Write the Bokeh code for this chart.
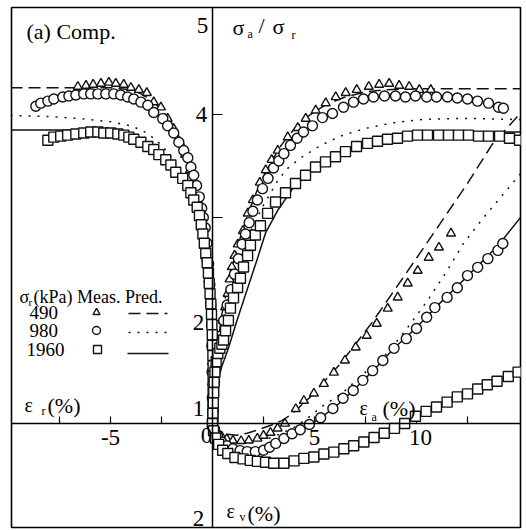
from bokeh.plotting import figure
from bokeh.models import Range1d, Span, Label
from bokeh.embed import file_html
from bokeh.resources import INLINE

# ---------------- stress ratio sigma_a/sigma_r against radial strain (%) ----------------
er_tri = [-6.6, -6.2, -5.85, -5.47, -5.08, -4.74, -4.35, -4.0, -3.61, -3.22, -2.88, -2.53,
          -2.2, -1.9, -1.6, -1.35, -1.1, -0.9, -0.7, -0.55, -0.42, -0.3, -0.2, -0.13, -0.08,
          -0.05, -0.03, -0.02, -0.01, 0.0]
sr_tri_l = [4.27, 4.28, 4.29, 4.30, 4.31, 4.30, 4.29, 4.26, 4.24, 4.21, 4.12, 4.07,
            3.96, 3.86, 3.73, 3.61, 3.46, 3.31, 3.16, 3.0, 2.8, 2.6, 2.4, 2.2, 2.0,
            1.8, 1.6, 1.4, 1.2, 1.0]

er_cir = [-8.66, -8.42, -8.07, -7.78, -7.34, -7.04, -6.7, -6.31, -5.97, -5.62, -5.23, -4.84,
          -4.5, -4.16, -3.86, -3.51, -3.17, -2.88, -2.44, -2.2, -1.9, -1.65, -1.41, -1.21,
          -1.06, -0.92, -0.78, -0.65, -0.53, -0.45, -0.36, -0.27, -0.19, -0.13, -0.08, -0.05,
          -0.03, -0.02, -0.01, 0.0]
sr_cir_l = [4.08, 4.11, 4.13, 4.15, 4.17, 4.18, 4.19, 4.20, 4.20, 4.20, 4.20, 4.20,
            4.19, 4.17, 4.15, 4.12, 4.09, 4.02, 3.96, 3.89, 3.82, 3.73, 3.65, 3.58,
            3.49, 3.41, 3.31, 3.20, 3.09, 3.0, 2.9, 2.75, 2.55, 2.35, 2.15, 1.95,
            1.75, 1.5, 1.25, 1.0]

er_sq = [-8.07, -7.78, -7.44, -7.1, -6.7, -6.31, -5.97, -5.62, -5.33, -4.99, -4.64, -4.35,
         -4.1, -3.86, -3.51, -3.17, -2.88, -2.63, -2.29, -2.04, -1.8, -1.46, -1.21, -1.06,
         -0.92, -0.75, -0.64, -0.55, -0.47, -0.40, -0.33, -0.26, -0.2, -0.16, -0.12, -0.08,
         -0.05, -0.03, -0.01, 0.0, 0.02, 0.03, 0.03, 0.03, 0.03, 0.03, 0.02]
sr_sq_l = [3.75, 3.78, 3.79, 3.80, 3.81, 3.82, 3.83, 3.83, 3.82, 3.82, 3.81, 3.80,
           3.78, 3.76, 3.73, 3.69, 3.66, 3.61, 3.56, 3.51, 3.44, 3.38, 3.31, 3.24,
           3.17, 3.10, 3.02, 2.93, 2.84, 2.75, 2.65, 2.56, 2.46, 2.36, 2.26, 2.16,
           2.06, 1.96, 1.86, 1.76, 1.66, 1.56, 1.46, 1.36, 1.26, 1.16, 1.06]

# ---------------- stress ratio against axial strain (%) ----------------
ea_tri = [0.0, 0.02, 0.05, 0.1, 0.17, 0.26, 0.37, 0.5, 0.62, 0.74, 0.84, 0.95, 1.08, 1.24,
          1.49, 1.73, 1.98, 2.32, 2.61, 2.9, 3.2, 3.69, 4.18, 4.57, 5.06, 5.55, 6.04, 6.53,
          7.07, 7.66, 8.17, 8.66, 9.15, 9.64, 10.14, 10.7]
sr_tri_r = [1.0, 1.12, 1.25, 1.4, 1.55, 1.7, 1.85, 2.0, 2.13, 2.26, 2.4, 2.52, 2.63, 2.74,
            2.87, 3.04, 3.17, 3.34, 3.46, 3.56, 3.65, 3.78, 3.87, 3.96, 4.04, 4.11, 4.17, 4.21,
            4.24, 4.27, 4.29, 4.30, 4.28, 4.27, 4.24, 4.24]

ea_cir = [0.0, 0.02, 0.05, 0.1, 0.18, 0.28, 0.4, 0.55, 0.72, 0.9, 1.08, 1.27, 1.45, 1.62,
          1.8, 1.98, 2.2, 2.45, 2.72, 2.99, 3.25, 3.5, 3.82, 4.15, 4.46, 4.9, 5.39, 5.88,
          6.42, 6.91, 7.4, 7.89, 8.43, 8.97, 9.46, 9.95, 10.5, 10.98, 11.52, 12.0, 12.5,
          12.99, 13.53, 14.02, 14.26]
sr_cir_r = [1.0, 1.12, 1.25, 1.4, 1.55, 1.7, 1.85, 2.0, 2.15, 2.3, 2.45, 2.6, 2.74, 2.84,
            2.95, 3.06, 3.17, 3.28, 3.38, 3.48, 3.55, 3.62, 3.70, 3.77, 3.83, 3.89, 3.97, 4.01,
            4.07, 4.12, 4.15, 4.17, 4.18, 4.18, 4.17, 4.18, 4.17, 4.17, 4.17, 4.16, 4.15,
            4.13, 4.11, 4.07, 4.06]

ea_sq = [0.0, 0.02, 0.04, 0.06, 0.08, 0.12, 0.18, 0.26, 0.36, 0.46, 0.54, 0.64, 0.78, 0.88,
         1.03, 1.23, 1.37, 1.52, 1.72, 1.86, 2.1, 2.35, 2.7, 3.09, 3.58, 4.07, 4.56, 5.05,
         5.54, 6.03, 6.52, 7.06, 7.6, 8.09, 8.58, 9.07, 9.56, 10.05, 10.54, 11.08, 11.57,
         12.06, 12.55, 13.04, 13.53, 14.07, 14.56, 15.05]
sr_sq_r = [1.0, 1.1, 1.2, 1.3, 1.4, 1.5, 1.6, 1.68, 1.73, 1.77, 1.81, 1.9, 2.0, 2.12,
           2.22, 2.32, 2.41, 2.52, 2.63, 2.73, 2.83, 2.92, 3.04, 3.15, 3.24, 3.33, 3.41, 3.49,
           3.54, 3.59, 3.64, 3.69, 3.72, 3.74, 3.76, 3.77, 3.79, 3.80, 3.80, 3.80, 3.80,
           3.80, 3.80, 3.79, 3.79, 3.79, 3.77, 3.75]

# ---------------- predicted stress ratio (left: radial, right: axial) ----------------
pr_490_l_x = [-9.9, -7.0, -5.0, -4.0, -3.5, -3.0, -2.5, -2.0, -1.6, -1.2, -0.9, -0.6, -0.4,
              -0.25, -0.15, -0.08, -0.04, -0.01, 0.0]
pr_490_l_y = [4.26, 4.26, 4.26, 4.24, 4.20, 4.14, 4.05, 3.92, 3.77, 3.58, 3.38, 3.12, 2.85,
              2.55, 2.25, 1.9, 1.55, 1.2, 1.0]
pr_980_l_x = [-9.9, -8.0, -6.5, -5.0, -4.0, -3.4, -2.8, -2.4, -2.0, -1.6, -1.2, -0.9, -0.6,
              -0.4, -0.25, -0.14, -0.07, -0.03, 0.0]
pr_980_l_y = [3.99, 3.98, 3.96, 3.93, 3.89, 3.84, 3.76, 3.68, 3.58, 3.45, 3.28, 3.1, 2.85,
              2.6, 2.3, 2.0, 1.65, 1.3, 1.0]
pr_1960_l_x = [-9.9, -8.0, -6.0, -5.0, -4.0, -3.0, -2.5, -2.0, -1.5, -1.1, -0.8, -0.55,
               -0.35, -0.2, -0.1, -0.05, -0.02, 0.0]
pr_1960_l_y = [3.85, 3.85, 3.85, 3.84, 3.80, 3.70, 3.62, 3.52, 3.38, 3.22, 3.05, 2.85,
               2.6, 2.3, 1.95, 1.6, 1.3, 1.0]

pr_490_r_x = [0.0, 0.05, 0.12, 0.25, 0.45, 0.7, 1.0, 1.4, 1.8, 2.3, 2.8, 3.4, 4.0, 4.8,
              5.6, 6.5, 7.5, 8.5, 10.0, 15.1]
pr_490_r_y = [1.0, 1.2, 1.45, 1.75, 2.05, 2.3, 2.55, 2.83, 3.07, 3.32, 3.52, 3.71, 3.86,
              4.0, 4.1, 4.17, 4.22, 4.24, 4.25, 4.25]
pr_980_r_x = [0.0, 0.08, 0.2, 0.4, 0.65, 1.0, 1.4, 1.9, 2.5, 3.2, 3.7, 4.33, 5.3, 6.4,
              7.6, 8.9, 10.2, 11.7, 13.2, 15.1]
pr_980_r_y = [1.0, 1.25, 1.55, 1.85, 2.1, 2.38, 2.62, 2.88, 3.12, 3.36, 3.48, 3.58, 3.70,
              3.80, 3.87, 3.92, 3.95, 3.96, 3.96, 3.95]
pr_1960_r_x = [0.0, 0.08, 0.22, 0.45, 0.78, 1.2, 1.7, 2.2, 2.6, 3.2, 4.0, 5.0, 6.0, 7.0,
               8.0, 9.0, 10.0, 12.0, 15.1]
pr_1960_r_y = [1.0, 1.2, 1.38, 1.55, 1.73, 2.0, 2.3, 2.6, 2.85, 3.07, 3.3, 3.48, 3.6,
               3.69, 3.75, 3.79, 3.81, 3.83, 3.83]

# ---------------- volumetric strain (%) against axial strain (%) ----------------
ev_tri_x = [0.0, 0.1, 0.25, 0.45, 0.7, 1.0, 1.4, 1.78, 2.2, 2.5, 2.84, 3.19, 3.55, 4.08,
            4.48, 4.97, 5.46, 5.95, 6.49, 7.02, 7.56, 8.05, 8.59, 9.08, 9.57, 10.06, 10.6,
            11.1, 11.69]
ev_tri_y = [0.0, 0.1, 0.2, 0.27, 0.32, 0.35, 0.36, 0.35, 0.31, 0.25, 0.19, 0.10, 0.0,
            -0.3, -0.47, -0.62, -0.82, -1.05, -1.30, -1.57, -1.81, -2.06, -2.37, -2.60,
            -2.89, -3.15, -3.42, -3.63, -3.92]

ev_cir_x = [0.0, 0.1, 0.25, 0.45, 0.7, 1.0, 1.35, 1.7, 2.1, 2.5, 2.8, 3.1, 3.5, 3.9, 4.3,
            4.75, 5.3, 5.9, 6.4, 6.9, 7.37, 7.85, 8.35, 8.9, 9.5, 10.0, 10.5, 10.9, 11.5,
            12.0, 12.5, 13.0, 13.5, 13.99, 14.23]
ev_cir_y = [0.0, 0.12, 0.26, 0.38, 0.46, 0.52, 0.56, 0.58, 0.58, 0.55, 0.49, 0.41, 0.31,
            0.21, 0.13, 0.02, -0.12, -0.31, -0.52, -0.68, -0.89, -1.09, -1.30, -1.55, -1.75,
            -1.96, -2.19, -2.39, -2.60, -2.80, -3.05, -3.22, -3.40, -3.57, -3.71]

ev_sq_x = [0.0, 0.05, 0.15, 0.3, 0.5, 0.75, 1.1, 1.5, 1.85, 2.2, 2.6, 3.0, 3.5, 4.0, 4.48,
           4.97, 5.46, 5.95, 6.44, 6.92, 7.42, 7.92, 8.42, 8.92, 9.42, 9.95, 10.47, 10.98,
           11.5, 12.0, 12.5, 13.0, 13.47, 13.95, 14.5, 14.98]
ev_sq_y = [0.0, 0.15, 0.3, 0.43, 0.55, 0.62, 0.70, 0.73, 0.76, 0.78, 0.80, 0.82, 0.82,
           0.77, 0.72, 0.69, 0.63, 0.59, 0.52, 0.46, 0.38, 0.29, 0.20, 0.10, 0.0, -0.15,
           -0.25, -0.34, -0.44, -0.55, -0.61, -0.71, -0.80, -0.87, -0.97, -1.06]

pv_490_x = [0.0, 0.3, 0.7, 1.2, 1.7, 2.3, 2.9, 3.4, 3.9, 4.8, 6.3, 7.8, 9.3, 10.8, 12.5,
            13.7, 15.1]
pv_490_y = [0.0, 0.14, 0.22, 0.24, 0.2, 0.12, 0.03, -0.06, -0.2, -0.55, -1.25, -2.07,
            -2.98, -3.9, -4.95, -5.75, -6.4]
pv_980_x = [0.0, 0.3, 0.8, 1.4, 2.0, 2.7, 3.4, 4.0, 4.5, 4.97, 5.3, 6.39, 7.42, 8.59,
            9.57, 10.55, 11.5, 12.3, 13.2, 14.1, 15.1]
pv_980_y = [0.0, 0.18, 0.3, 0.36, 0.37, 0.32, 0.2, 0.08, -0.06, -0.21, -0.33, -0.64,
            -1.03, -1.46, -1.98, -2.54, -3.15, -3.71, -4.2, -4.65, -5.15]
pv_1960_x = [0.0, 0.3, 0.7, 1.2, 1.8, 2.4, 3.0, 3.6, 4.2, 4.9, 5.9, 6.9, 7.9, 8.9, 10.0,
             11.0, 12.0, 13.0, 14.0, 15.1]
pv_1960_y = [0.0, 0.25, 0.42, 0.52, 0.57, 0.55, 0.45, 0.3, 0.15, 0.0, -0.3, -0.68, -1.1,
             -1.55, -1.98, -2.42, -2.83, -3.25, -3.67, -4.25]

x_minor_ticks = [-7.5, -5.0, -2.5, 2.5, 5.0, 7.5, 10.0, 12.5]
y_ticks = [2, 3, 4]
legend_rows = ["490", "980", "1960"]

FONT = "Liberation Serif"
INK = "#111111"

# pixel geometry of the drawing area (used only to place text and tick lengths)
X0, XS = 212.0, 20.4      # x = 0 at pixel 212, 20.4 px per percent
Y0, YS = 423.0, 103.0     # ratio = 1 at pixel 423, 103 px per unit
EVS = 48.5                # px per percent of volumetric strain


def sx(px):
    return (px - X0) / XS


def sy(py):
    return 1.0 + (Y0 - py) / YS


p = figure(width=526, height=530,
           x_range=Range1d(sx(11), sx(520)), y_range=Range1d(sy(527), sy(7)),
           output_backend="svg", toolbar_location=None,
           x_axis_location=None, y_axis_location=None,
           min_border_left=11, min_border_right=6, min_border_top=7, min_border_bottom=3)
p.extra_y_ranges = {"ev": Range1d(start=(527 - Y0) / EVS, end=(7 - Y0) / EVS)}
p.grid.visible = False
p.outline_line_color = "black"
p.outline_line_width = 1.6
p.background_fill_color = "white"
p.border_fill_color = "white"

# crossing axes
p.add_layout(Span(location=0, dimension="height", line_color="black", line_width=1.5))
p.add_layout(Span(location=1, dimension="width", line_color="black", line_width=1.5))

# tick marks
p.segment(x0=x_minor_ticks, y0=[1] * len(x_minor_ticks), x1=x_minor_ticks,
          y1=[1 + 7 / YS] * len(x_minor_ticks), line_color="black", line_width=1.2)
p.segment(x0=[0] * len(y_ticks), y0=y_ticks, x1=[10 / XS] * len(y_ticks), y1=y_ticks,
          line_color="black", line_width=1.2)


def label(text, px, py, size, align="left"):
    p.add_layout(Label(x=sx(px), y=sy(py), text=text, text_font=FONT,
                       text_font_size=f"{size}px", text_align=align,
                       text_baseline="middle", text_color="black"))


# tick numbers (drawn first so markers may cover them)
label("5", 202, 25, 23, "center")
label("4", 201, 114, 23, "center")
label("2", 198, 322, 23, "center")
label("1", 198, 408, 23, "center")
label("0", 206, 435, 23, "center")
label("2", 198, 518, 23, "center")
label("-5", 110, 437, 23, "center")
label("5", 314, 437, 23, "center")
label("10", 420, 437, 23, "center")

# predicted curves
DASH, DOT = "12 6", "2 7"
for xs, ys, dash in [(pr_490_l_x, pr_490_l_y, DASH), (pr_980_l_x, pr_980_l_y, DOT),
                     (pr_1960_l_x, pr_1960_l_y, "solid"),
                     (pr_490_r_x, pr_490_r_y, DASH), (pr_980_r_x, pr_980_r_y, DOT),
                     (pr_1960_r_x, pr_1960_r_y, "solid")]:
    p.line(xs, ys, line_color=INK, line_width=1.5, line_dash=dash)
for xs, ys, dash in [(pv_490_x, pv_490_y, DASH), (pv_980_x, pv_980_y, DOT),
                     (pv_1960_x, pv_1960_y, "solid")]:
    p.line(xs, ys, line_color=INK, line_width=1.5, line_dash=dash, y_range_name="ev")

# measured points
MK = dict(fill_color="white", line_color=INK, line_width=1.4)
p.scatter(er_tri, sr_tri_l, marker="triangle", size=9, **MK)
p.scatter(ea_tri, sr_tri_r, marker="triangle", size=9, **MK)
p.scatter(ev_tri_x, ev_tri_y, marker="triangle", size=9, y_range_name="ev", **MK)
p.scatter(er_cir, sr_cir_l, marker="circle", size=10, **MK)
p.scatter(ea_cir, sr_cir_r, marker="circle", size=10, **MK)
p.scatter(ev_cir_x, ev_cir_y, marker="circle", size=10, y_range_name="ev", **MK)
p.scatter(er_sq, sr_sq_l, marker="square", size=10, **MK)
p.scatter(ea_sq, sr_sq_r, marker="square", size=10, **MK)
p.scatter(ev_sq_x, ev_sq_y, marker="square", size=10, y_range_name="ev", **MK)

# title and axis names
label("(a) Comp.", 26, 31, 22)
label("σ", 232, 27, 22)
label("a", 247, 33, 12)
label("/", 258, 25, 22)
label("σ", 272, 26, 22)
label("r", 291, 34, 12)
label("ε", 24, 404, 20)
label("r", 41, 410, 12)
label("(%)", 47, 405, 22)
label("ε", 359, 407, 20)
label("a", 371, 416, 12)
label("(%)", 382, 408, 22)
label("ε", 226, 510, 20)
label("v", 239, 516, 12)
label("(%)", 247, 513, 22)

# legend
label("σ", 19, 296, 18)
label("r", 28, 301, 11)
label("(kPa) Meas. Pred.", 33, 296, 18)
row_y = [312, 330, 349]
for name, py in zip(legend_rows, row_y):
    label(name, 29 if name != "1960" else 26, py, 19)
p.scatter([sx(96)], [sy(row_y[0])], marker="triangle", size=7, **MK)
p.scatter([sx(96)], [sy(row_y[1])], marker="circle", size=8, **MK)
p.scatter([sx(97)], [sy(row_y[2])], marker="square", size=8, **MK)
p.line([sx(128), sx(167)], [sy(313)] * 2, line_color=INK, line_width=1.5, line_dash=DASH)
p.line([sx(128), sx(167)], [sy(332)] * 2, line_color=INK, line_width=1.5, line_dash=DOT)
p.line([sx(127), sx(168)], [sy(353)] * 2, line_color=INK, line_width=1.5)

open("out.html", "w").write(file_html(p, INLINE))
